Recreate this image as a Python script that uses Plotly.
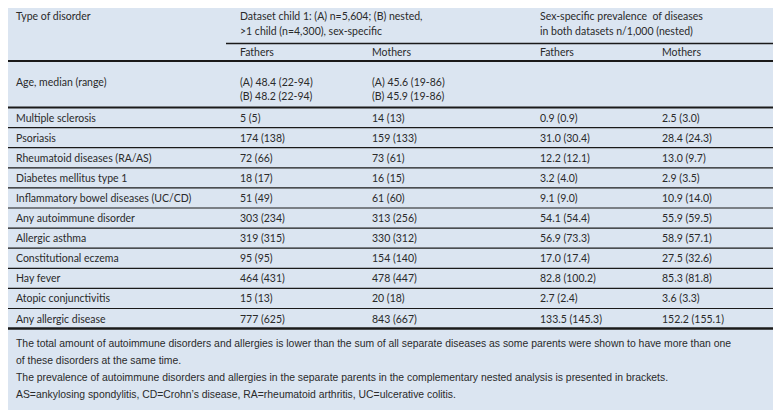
import plotly.graph_objects as go

# ---------------- data ----------------
disorders = ["Multiple sclerosis", "Psoriasis", "Rheumatoid diseases (RA/AS)",
             "Diabetes mellitus type 1", "Inflammatory bowel diseases (UC/CD)",
             "Any autoimmune disorder", "Allergic asthma", "Constitutional eczema",
             "Hay fever", "Atopic conjunctivitis", "Any allergic disease"]
fathers_n = [5, 174, 72, 18, 51, 303, 319, 95, 464, 15, 777]
fathers_n_nested = [5, 138, 66, 17, 49, 234, 315, 95, 431, 13, 625]
mothers_n = [14, 159, 73, 16, 61, 313, 330, 154, 478, 20, 843]
mothers_n_nested = [13, 133, 61, 15, 60, 256, 312, 140, 447, 18, 667]
fathers_prev = [0.9, 31.0, 12.2, 3.2, 9.1, 54.1, 56.9, 17.0, 82.8, 2.7, 133.5]
fathers_prev_nested = [0.9, 30.4, 12.1, 4.0, 9.0, 54.4, 73.3, 17.4, 100.2, 2.4, 145.3]
mothers_prev = [2.5, 28.4, 13.0, 2.9, 10.9, 55.9, 58.9, 27.5, 85.3, 3.6, 152.2]
mothers_prev_nested = [3.0, 24.3, 9.7, 3.5, 14.0, 59.5, 57.1, 32.6, 81.8, 3.3, 155.1]

age_label = "Age, median (range)"
age_fathers = ["(A) 48.4 (22-94)", "(B) 48.2 (22-94)"]
age_mothers = ["(A) 45.6 (19-86)", "(B) 45.9 (19-86)"]

header_first = "Type of disorder"
header_dataset = ["Dataset child 1: (A) n=5,604; (B) nested,", ">1 child (n=4,300), sex-specific"]
header_prev = ["Sex-specific prevalence\u00a0 of diseases", "in both datasets n/1,000 (nested)"]
sub_headers = ["Fathers", "Mothers", "Fathers", "Mothers"]

footnotes = [
    "The total amount of autoimmune disorders and allergies is lower than the sum of all separate diseases as some parents were shown to have more than one",
    "of these disorders at the same time.",
    "The prevalence of autoimmune disorders and allergies in the separate parents in the complementary nested analysis is presented in brackets.",
    "AS=ankylosing spondylitis, CD=Crohn\u2019s disease, RA=rheumatoid arthritis, UC=ulcerative colitis.",
]

# ---------------- layout / style ----------------
W, H = 781, 410
BG = "#dbe5f1"
TXT = "#2a2a2a"
LINE = "#1a1a1a"
FONT = "Lato, Open Sans, sans-serif"
FS = 10.5
FOOT_FONT = "Liberation Sans, Arial, sans-serif"
FOOT_FS = 10.4

COL_X = [6, 230, 362, 530, 652]
ROW_TOP = 99.5
ROW_H = 20.1
N = len(disorders)
ROW_BOTTOM = ROW_TOP + ROW_H * N
FOOT_TOP = 335.6
FOOT_STEP = 16.8

ann = []
shapes = []

def text(x, y, s, font=FONT, size=FS):
    ann.append(dict(x=x, y=y, xref="x", yref="y", text=s, showarrow=False,
                    xanchor="left", yanchor="middle",
                    font=dict(family=font, size=size, color=TXT)))

def hline(x0, x1, y, w):
    shapes.append(dict(type="line", xref="x", yref="y", x0=x0, x1=x1, y0=y, y1=y,
                       line=dict(color=LINE, width=w)))

# header
text(COL_X[0], 8, header_first)
text(COL_X[1], 8, header_dataset[0])
text(COL_X[1], 23, header_dataset[1])
text(COL_X[3], 8, header_prev[0])
text(COL_X[3], 23, header_prev[1])
hline(218, W, 35.5, 1.5)
for i, s in enumerate(sub_headers):
    text(COL_X[i + 1], 44, s)
hline(0, W, 53, 2)

# age row
text(COL_X[0], 74, age_label)
text(COL_X[1], 74, age_fathers[0])
text(COL_X[1], 88, age_fathers[1])
text(COL_X[2], 74, age_mothers[0])
text(COL_X[2], 88, age_mothers[1])
hline(0, W, ROW_TOP, 2)

# body rows
for i in range(N):
    yc = ROW_TOP + ROW_H * (i + 0.5)
    text(COL_X[0], yc, disorders[i])
    text(COL_X[1], yc, f"{fathers_n[i]} ({fathers_n_nested[i]})")
    text(COL_X[2], yc, f"{mothers_n[i]} ({mothers_n_nested[i]})")
    text(COL_X[3], yc, f"{fathers_prev[i]:.1f} ({fathers_prev_nested[i]:.1f})")
    text(COL_X[4], yc, f"{mothers_prev[i]:.1f} ({mothers_prev_nested[i]:.1f})")
    if i < N - 1:
        hline(0, W, ROW_TOP + ROW_H * (i + 1), 1.2)
hline(0, W, ROW_BOTTOM, 2.5)

# footnotes
for j, s in enumerate(footnotes):
    text(COL_X[0], FOOT_TOP + FOOT_STEP * j, s, font=FOOT_FONT, size=FOOT_FS)

fig = go.Figure()
fig.update_layout(
    width=W, height=H, margin=dict(l=0, r=0, t=0, b=0),
    paper_bgcolor=BG, plot_bgcolor=BG,
    xaxis=dict(range=[0, W], visible=False, fixedrange=True),
    yaxis=dict(range=[H, 0], visible=False, fixedrange=True),
    annotations=ann, shapes=shapes, showlegend=False,
)
fig.write_html("out.html")
